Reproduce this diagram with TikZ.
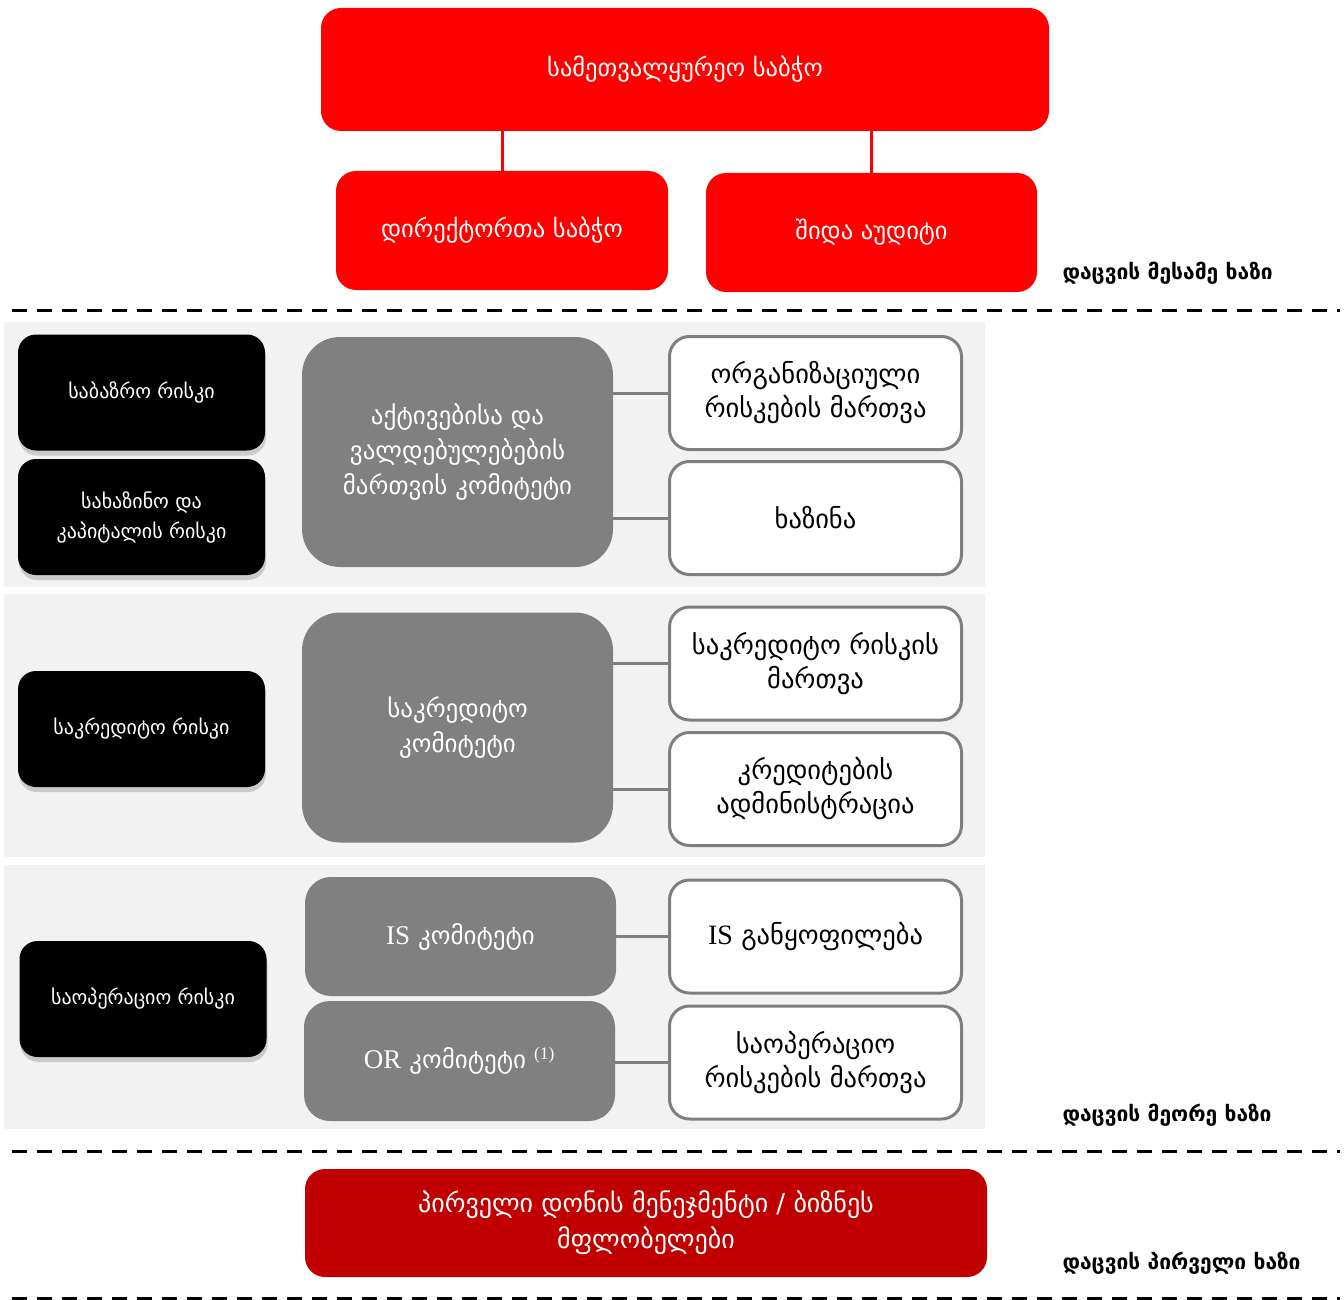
\documentclass[tikz,border=0pt]{standalone}
\usepackage{fontspec}
\setmainfont{DejaVu Sans}
\newfontfamily\latinfont{Liberation Serif}
\usetikzlibrary{shadows}
\definecolor{boardred}{HTML}{FF0000}
\definecolor{firstred}{HTML}{C00000}
\definecolor{comgray}{HTML}{808080}
\definecolor{rimgray}{HTML}{7F7F7F}
\definecolor{panelgray}{HTML}{F2F2F2}
\begin{document}
\begin{tikzpicture}[x=1pt,y=-1pt,
    redbox/.style={fill=boardred,text=white,rounded corners=20pt,align=center,
        font=\fontsize{24.5}{30}\selectfont},
    riskbox/.style={fill=black,text=white,rounded corners=18pt,align=center,
        minimum width=247pt,minimum height=116pt,
        drop shadow={shadow xshift=1pt,shadow yshift=-5pt,opacity=0.35},
        font=\fontsize{20}{30}\selectfont},
    combox/.style={fill=comgray,text=white,rounded corners=38pt,align=center,
        minimum width=311pt,font=\fontsize{25}{35}\selectfont},
    unitbox/.style={draw=rimgray,line width=3pt,fill=white,rounded corners=20pt,
        align=center,minimum width=292pt,minimum height=113pt,
        font=\fontsize{26.5}{34}\selectfont},
    linklabel/.style={anchor=west,font=\bfseries\fontsize{21}{24}\selectfont},
    sepline/.style={line width=3pt,dash pattern=on 15pt off 10pt},
    link/.style={rimgray,line width=3pt}]
\useasboundingbox (0,0) rectangle (1344,1300);

% third line of defence
\node[redbox,minimum width=728pt,minimum height=123pt] (sup) at (685,69.5) {სამეთვალყურეო საბჭო};
\node[redbox,minimum width=332pt,minimum height=119pt] (dir) at (502,230.5) {დირექტორთა საბჭო};
\node[redbox,minimum width=331pt,minimum height=119pt] (aud) at (871.5,232.5) {შიდა აუდიტი};
\draw[boardred,line width=3pt] (dir.north) -- (dir.north |- sup.south);
\draw[boardred,line width=3pt] (aud.north) -- (aud.north |- sup.south);
\node[linklabel] (third) at (1059,273) {დაცვის მესამე ხაზი};
\draw[sepline] (12,310) -- (1340,310);

% second line of defence
\fill[panelgray] (4,322) rectangle (985,587);
\fill[panelgray] (4,594) rectangle (985,857);
\fill[panelgray] (4,865) rectangle (985,1129);

\node[riskbox] (market) at (141.5,392.5) {საბაზრო რისკი};
\node[riskbox] (treas) at (141.5,517) {სახაზინო და\\კაპიტალის რისკი};
\node[combox,minimum height=230pt] (alco) at (457.5,452) {აქტივებისა და\\ვალდებულებების\\მართვის კომიტეტი};
\node[unitbox] (org) at (815.5,393) {ორგანიზაციული\\რისკების მართვა};
\node[unitbox] (cash) at (815.5,518) {ხაზინა};
\draw[link] (org.west) -- (org.west -| alco.east);
\draw[link] (cash.west) -- (cash.west -| alco.east);

\node[riskbox] (credit) at (141.5,729) {საკრედიტო რისკი};
\node[combox,minimum height=230pt] (crcom) at (457.5,727.5) {საკრედიტო\\კომიტეტი};
\node[unitbox] (crman) at (815.5,663.5) {საკრედიტო რისკის\\მართვა};
\node[unitbox] (cradm) at (815.5,789) {კრედიტების\\ადმინისტრაცია};
\draw[link] (crman.west) -- (crman.west -| crcom.east);
\draw[link] (cradm.west) -- (cradm.west -| crcom.east);

\node[riskbox] (oper) at (143,999) {საოპერაციო რისკი};
\node[combox,rounded corners=26pt,minimum height=119pt] (iscom) at (460.5,936.5) {{\latinfont\fontsize{27}{35}\selectfont IS} კომიტეტი};
\node[combox,rounded corners=26pt,minimum height=120pt] (orcom) at (459.5,1061) {{\latinfont\fontsize{27}{35}\selectfont OR} კომიტეტი {\latinfont\textsuperscript{(1)}}};
\node[unitbox] (isdep) at (815.5,936.5) {{\latinfont\fontsize{28}{34}\selectfont IS} განყოფილება};
\node[unitbox] (orman) at (815.5,1062.5) {საოპერაციო\\რისკების მართვა};
\draw[link] (isdep.west) -- (isdep.west -| iscom.east);
\draw[link] (orman.west) -- (orman.west -| orcom.east);
\node[linklabel] (second) at (1059,1115) {დაცვის მეორე ხაზი};
\draw[sepline] (12,1151) -- (1340,1151);

% first line of defence
\node[redbox,fill=firstred,minimum width=682pt,minimum height=108pt,
    font=\fontsize{26}{36}\selectfont] (mgmt) at (646,1223) {პირველი დონის მენეჯმენტი / ბიზნეს\\მფლობელები};
\node[linklabel] (first) at (1059,1263) {დაცვის პირველი ხაზი};
\draw[sepline] (12,1298) -- (1340,1298);
\end{tikzpicture}
\end{document}
